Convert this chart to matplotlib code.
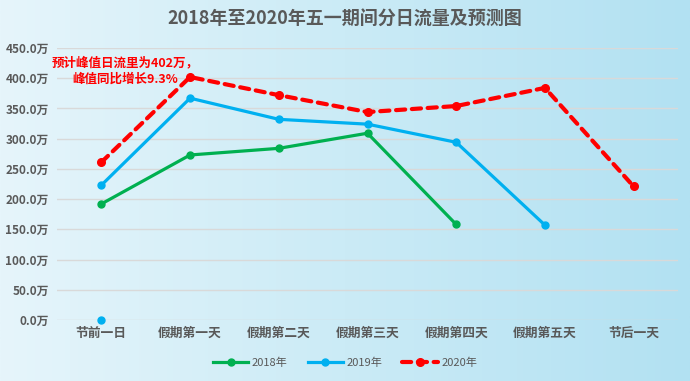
import numpy as np
import matplotlib
matplotlib.use("Agg")
import matplotlib.pyplot as plt
from matplotlib.colors import LinearSegmentedColormap

plt.rcParams['font.family'] = ['Noto Sans CJK SC', 'DejaVu Sans']

categories = ['节前一日', '假期第一天', '假期第二天', '假期第三天', '假期第四天', '假期第五天', '节后一天']
s2018 = [192, 273, 284, 309, 158, np.nan, np.nan]
s2019 = [223, 367, 332, 324, 294, 157, np.nan]
s2019_extra = [0.0]  # lone point at 节前一日
s2020 = [261, 402, 372, 344, 354, 384, 221]
yticks = [0, 50, 100, 150, 200, 250, 300, 350, 400, 450]
title = '2018年至2020年五一期间分日流量及预测图'
note = '预计峰值日流里为402万，\n峰值同比增长9.3%'

W, H = 690, 381
fig = plt.figure(figsize=(W / 100, H / 100), dpi=100)

# gradient background
bg = fig.add_axes([0, 0, 1, 1], zorder=-10)
grad = np.linspace(0, 1, 256).reshape(1, -1)
cmap = LinearSegmentedColormap.from_list('bg', ['#e6f5fb', '#cbebf6', '#b2e1f2'])
bg.imshow(grad, aspect='auto', cmap=cmap, extent=[0, 1, 0, 1])
bg.set_axis_off()

left, right = 57 / W, 678 / W
bottom, top = (H - 320) / H, (H - 48) / H
ax = fig.add_axes([left, bottom, right - left, top - bottom])
ax.patch.set_alpha(0)

x = np.arange(len(categories))
grey = '#595959'

ax.plot(x, s2018, color='#00b050', lw=2.3, marker='o', ms=5, label='2018年', zorder=3)
ax.plot(x, s2019, color='#00b0f0', lw=2.3, marker='o', ms=5, label='2019年', zorder=3)
ax.plot([0], s2019_extra, color='#00b0f0', lw=0, marker='o', ms=5, zorder=3, clip_on=False)
ax.plot(x, s2020, color='#ff0000', lw=3, ls=(0, (2.2, 1.6)), marker='o', ms=5.5,
        label='2020年', zorder=4, dash_capstyle='round')

ax.set_xlim(-0.5, len(categories) - 0.5)
ax.set_ylim(0, 450)
ax.set_yticks(yticks)
ax.set_yticklabels([f'{v:.1f}万' for v in yticks], fontsize=8.5, fontweight='bold', color=grey)
ax.set_xticks(x)
ax.set_xticklabels(categories, fontsize=9.2, fontweight='bold', color=grey)
ax.tick_params(axis='both', length=0, pad=6)
ax.tick_params(axis='x', pad=5)
ax.grid(axis='y', color='#d9d9d9', lw=1)
ax.set_axisbelow(True)
for s in ax.spines.values():
    s.set_visible(False)

fig.text(0.5, (H - 19) / H, title, ha='center', va='center', fontsize=13,
         fontweight='bold', color=grey)

ax.text(125 / W, (H - 71) / H, note, transform=fig.transFigure, ha='center', va='center',
        fontsize=9, fontweight='bold', color='#ff0000', linespacing=1.35)

leg = fig.legend(loc='center', bbox_to_anchor=(0.5, (H - 363) / H), ncol=3, frameon=False,
                 fontsize=8, handlelength=3.2, columnspacing=1.8, handletextpad=0.3)
for t in leg.get_texts():
    t.set_color(grey)

fig.savefig('out.png', dpi=100)
